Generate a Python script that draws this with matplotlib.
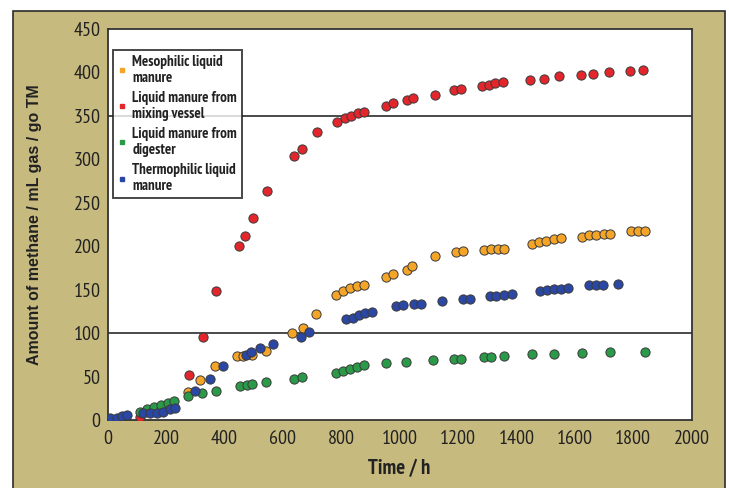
import matplotlib
matplotlib.use("Agg")
import matplotlib.pyplot as plt
from matplotlib.lines import Line2D
from matplotlib.patches import Rectangle

# Methane yield readings (time in h, amount in mL gas / go TM)
meso_t = [276, 317, 368, 443, 464, 495, 543, 632, 669, 714,
          781, 806, 829, 853, 877, 954, 979, 1024, 1043, 1120,
          1192, 1216, 1288, 1312, 1336, 1357, 1453, 1477, 1501, 1528,
          1552, 1624, 1648, 1672, 1699, 1720, 1792, 1816, 1840]
meso_v = [33, 46, 62, 74, 74, 75, 80, 100, 106, 122,
          144, 149, 152, 154, 155, 165, 168, 173, 177, 189,
          193, 195, 196, 197, 197, 197, 203, 205, 206, 208,
          209, 211, 213, 213, 214, 214, 217, 217, 217]

mix_t = [111, 278, 328, 373, 451, 470, 499, 547, 637, 666,
         718, 787, 813, 835, 858, 877, 954, 976, 1024, 1046,
         1120, 1188, 1212, 1282, 1306, 1328, 1354, 1447, 1496, 1546,
         1620, 1663, 1716, 1788, 1832]
mix_v = [4, 52, 96, 149, 200, 212, 232, 264, 304, 312,
         331, 343, 347, 350, 353, 354, 361, 364, 368, 370,
         374, 380, 381, 384, 385, 387, 389, 391, 392, 395,
         397, 398, 400, 401, 402]

dig_t = [111, 135, 158, 182, 206, 226, 276, 324, 371, 454,
         478, 495, 543, 637, 666, 784, 807, 830, 854, 877,
         952, 1023, 1115, 1186, 1211, 1288, 1312, 1357, 1453, 1528,
         1624, 1720, 1840]
dig_v = [10, 13, 15, 18, 20, 22, 28, 31, 34, 40,
         41, 42, 44, 48, 50, 55, 57, 59, 61, 64,
         66, 67, 69, 70, 71, 73, 73, 74, 76, 76,
         77, 79, 79]

thermo_t = [9, 33, 50, 67, 122, 146, 170, 190, 214, 231,
            300, 351, 396, 474, 491, 522, 567, 662, 691, 816,
            840, 861, 883, 906, 989, 1011, 1048, 1072, 1144, 1216,
            1240, 1309, 1331, 1357, 1384, 1480, 1504, 1528, 1552, 1576,
            1648, 1672, 1696, 1747]
thermo_v = [3, 3, 5, 6, 8, 8, 9, 10, 13, 14,
            34, 48, 62, 75, 79, 83, 88, 96, 102, 116,
            118, 121, 123, 125, 131, 132, 134, 134, 137, 140,
            140, 143, 143, 144, 145, 149, 150, 151, 151, 152,
            155, 155, 156, 157]

labels = ["Mesophilic liquid\nmanure",
          "Liquid manure from\nmixing vessel",
          "Liquid manure from\ndigester",
          "Thermophilic liquid\nmanure"]
colors = ["#f4a528", "#e3262b", "#2a9a48", "#2b47a4"]
series = [(meso_t, meso_v), (mix_t, mix_v), (dig_t, dig_v), (thermo_t, thermo_v)]

tan = "#c7ba7f"
narrow = ["PT Sans Narrow", "Roboto Condensed", "Archivo Narrow", "DejaVu Sans"]

fig = plt.figure(figsize=(7.29, 4.88), dpi=100)
fig.patch.set_facecolor("white")
frame = Rectangle((13 / 729, -0.02), (725 - 13) / 729, 1.02 - 11 / 488,
                  transform=fig.transFigure, facecolor=tan,
                  edgecolor="#2b2b2b", linewidth=1.2, zorder=-10)
fig.add_artist(frame)

ax = fig.add_axes([107.5 / 729, 1 - 420.4 / 488, 584.1 / 729, 391.8 / 488])
ax.set_facecolor("white")

# the two reference lines of the original chart
for yv in (100, 350):
    ax.axhline(yv, color="#4a4a4a", linewidth=1.4, zorder=1)

for (t, v), c in zip(series, colors):
    ax.scatter(t, v, s=44, color=c, edgecolors="#3a3a3a", linewidths=0.7, zorder=3)

ax.set_xlim(0, 2000)
ax.set_ylim(0, 450)
ax.set_xticks(range(0, 2001, 200))
ax.set_yticks(range(0, 451, 50))
ax.tick_params(length=0, labelsize=14.5, labelcolor="#222222")
ax.tick_params(axis="x", pad=7)
ax.tick_params(axis="y", pad=5)
for lab in ax.get_xticklabels() + ax.get_yticklabels():
    lab.set_fontfamily(narrow)
for sp in ax.spines.values():
    sp.set_color("#333333")
    sp.set_linewidth(1.3)

ax.set_xlabel("Time / h", fontfamily=narrow, fontweight="bold", fontsize=15,
              color="#222222", labelpad=8)
ax.set_ylabel("Amount of methane / mL gas / go TM", fontfamily="Liberation Sans",
              fontweight="bold", fontsize=11.5, color="#222222")
ax.yaxis.set_label_coords(-0.112, 0.5)

handles = [Line2D([], [], linestyle="none", marker="s", markersize=3.5,
                  markerfacecolor=c, markeredgecolor=c) for c in colors]
leg = ax.legend(handles, labels, loc="upper left", bbox_to_anchor=(0.009, 0.945),
                borderaxespad=0, frameon=True, fancybox=False,
                prop={"family": narrow, "weight": "bold", "size": 10.8},
                handlelength=0.6, handletextpad=0.4, labelspacing=0.4,
                borderpad=0.3, labelcolor="#222222")
leg.get_frame().set_edgecolor("#1a1a1a")
leg.get_frame().set_linewidth(1.4)

fig.savefig("out.png", dpi=100, facecolor=fig.get_facecolor())
